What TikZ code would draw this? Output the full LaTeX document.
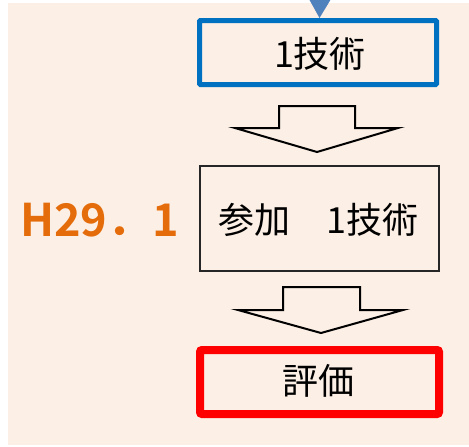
\documentclass[tikz,border=0pt]{standalone}
\usepackage{fontspec}
\setmainfont{Noto Sans CJK JP}
\newfontfamily\jpbold{Noto Sans CJK JP Bold}
\definecolor{bgpeach}{HTML}{FCEFE5}
\definecolor{boxblue}{HTML}{0070C0}
\definecolor{tipblue}{HTML}{4F81BD}
\definecolor{dateorange}{HTML}{E46C0A}
\definecolor{evalred}{HTML}{FF0000}
\tikzset{
  jptext/.style={font=\fontsize{36}{40}\selectfont, text=black, inner sep=0pt},
  bluebox/.style={draw=boxblue, line width=5pt, minimum width=237pt, minimum height=64pt, rounded corners=1pt},
  plainbox/.style={draw=black!85, line width=1.2pt, minimum width=239pt, minimum height=105pt},
  redbox/.style={draw=evalred, line width=8pt, minimum width=239pt, minimum height=64pt, rounded corners=2pt},
  blockarrow/.style={draw=black, line width=2pt, fill=bgpeach, line join=miter},
}
\begin{document}
\begin{tikzpicture}[x=1pt, y=-1pt]
\useasboundingbox (0,0) rectangle (469,447);
\fill[bgpeach] (8,3) rectangle (469,445);
% incoming arrow tip
\fill[tipblue] (309,-1) -- (331,-1) -- (319.5,18) -- cycle;
% boxes
\node[bluebox] (tech) at (318,52.5) {};
\node[jptext] at (320,54) {1技術};
\node[plainbox] (join) at (319.5,218.5) {};
\node[jptext] at (318.5,220) {参加　1技術};
\node[redbox] (eval) at (319.5,382) {};
\node[jptext] at (318.5,381) {評価};
% date label
\node[font=\jpbold\fontsize{45}{50}\selectfont, text=dateorange, inner sep=0pt, anchor=west] (date) at (20,220) {H29．1};
% block arrows
\draw[blockarrow] (279,106) -- (355,106) -- (355,128) -- (398,128) -- (317,152) -- (235,128) -- (279,128) -- cycle;
\draw[blockarrow] (283,287) -- (360,287) -- (360,310) -- (403,310) -- (321,333) -- (238,310) -- (283,310) -- cycle;
\end{tikzpicture}
\end{document}
